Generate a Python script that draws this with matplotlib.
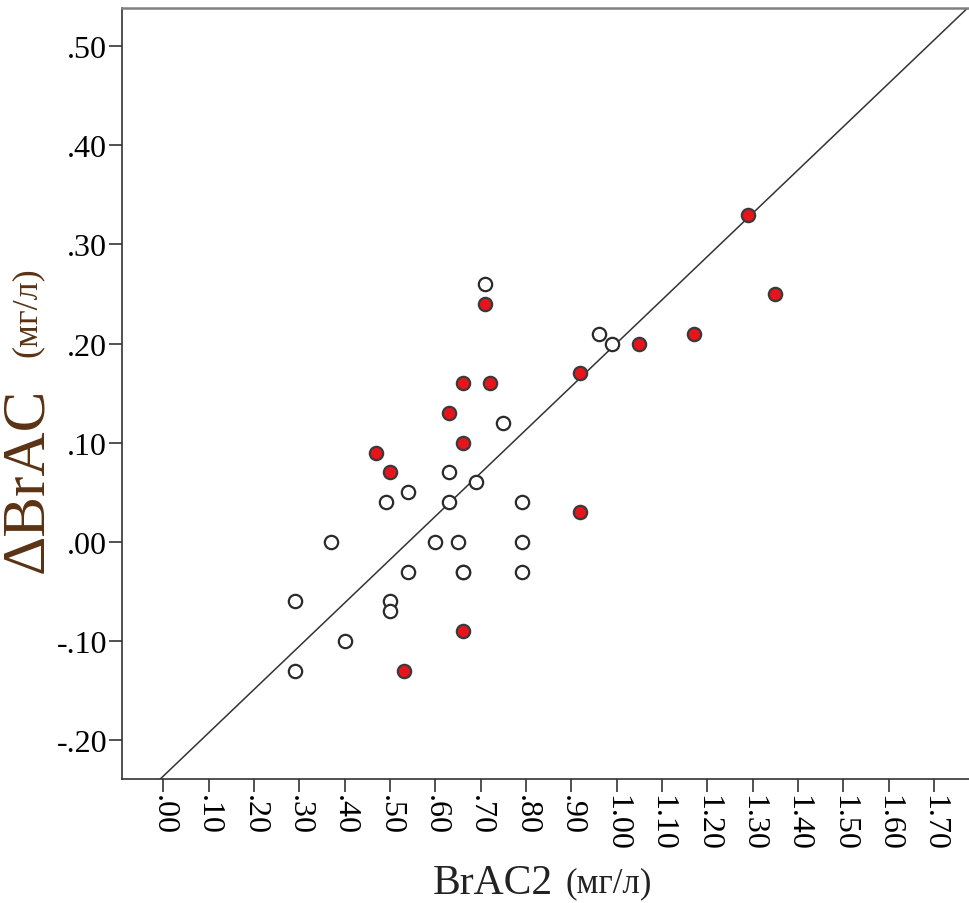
import numpy as np
import matplotlib.pyplot as plt
from matplotlib.ticker import FuncFormatter

# open circles
open_x = [0.29, 0.29, 0.37, 0.40, 0.49, 0.50, 0.50, 0.54, 0.54, 0.60, 0.63, 0.63,
          0.65, 0.66, 0.66, 0.69, 0.71, 0.75, 0.79, 0.79, 0.79, 0.96, 0.99]
open_y = [-0.06, -0.13, 0.00, -0.10, 0.04, -0.06, -0.07, 0.05, -0.03, 0.00, 0.07, 0.04,
          0.00, -0.03, -0.03, 0.06, 0.26, 0.12, 0.04, 0.00, -0.03, 0.21, 0.20]
# red filled
red_x = [0.47, 0.50, 0.53, 0.63, 0.66, 0.66, 0.66, 0.71, 0.72, 0.92, 0.92, 1.05, 1.17, 1.29, 1.35]
red_y = [0.09, 0.07, -0.13, 0.13, 0.16, 0.10, -0.09, 0.24, 0.16, 0.17, 0.03, 0.20, 0.21, 0.33, 0.25]

# reference line
line_a = -0.236
line_b = 0.4365

xticks = np.round(np.arange(0, 1.71, 0.1), 2)
yticks = np.round(np.arange(-0.2, 0.51, 0.1), 2)

plt.rcParams['font.family'] = ['Liberation Serif', 'DejaVu Serif']

fig = plt.figure(figsize=(9.69, 9.04), dpi=100)
ax = fig.add_axes([0.1256, 0.1372, 0.8744, 0.8525])

xl = np.array([-0.1, 1.9])
ax.plot(xl, line_a + line_b * xl, color='#333333', lw=1.1, zorder=1)

ax.scatter(open_x, open_y, s=92, facecolors='white', edgecolors='#2a2a2a', linewidths=1.6, zorder=3)
ax.scatter(red_x, red_y, s=92, facecolors='#e8141c', edgecolors='#3a3a3a', linewidths=1.6, zorder=3)

ax.set_xlim(-0.092, 1.777)
ax.set_ylim(-0.239, 0.538)

ax.set_xticks(xticks)
ax.set_yticks(yticks)

def fmt(v, pos):
    s = f"{v:.2f}"
    return s.replace("0.", ".", 1) if s.startswith(("0.", "-0.")) else s

ax.xaxis.set_major_formatter(FuncFormatter(fmt))
ax.yaxis.set_major_formatter(FuncFormatter(fmt))

ax.tick_params(axis='both', direction='out', length=9.5, width=1.2, color='#333333', labelsize=23, pad=1)
plt.setp(ax.get_xticklabels(), rotation=270, va='top', ha='center')

ax.spines['right'].set_visible(False)
ax.spines['left'].set_color('#333333')
ax.spines['bottom'].set_color('#333333')
ax.spines['left'].set_linewidth(1.2)
ax.spines['bottom'].set_linewidth(1.2)
ax.spines['top'].set_color('#808080')
ax.spines['top'].set_linewidth(1.8)

# axis titles
fig.text(0.509, 0.022, 'BrAC2', fontsize=30, ha='center', va='center', color='#222222')
fig.text(0.628, 0.022, '(мг/л)', fontsize=25, ha='center', va='center', color='#222222')
fig.text(0.028, 0.469, 'ΔBrAC', fontsize=44, ha='center', va='center', rotation=90, color='#5a3214')
fig.text(0.028, 0.655, '(мг/л)', fontsize=26, ha='center', va='center', rotation=90, color='#5a3214')

fig.savefig('out.png', dpi=100)
